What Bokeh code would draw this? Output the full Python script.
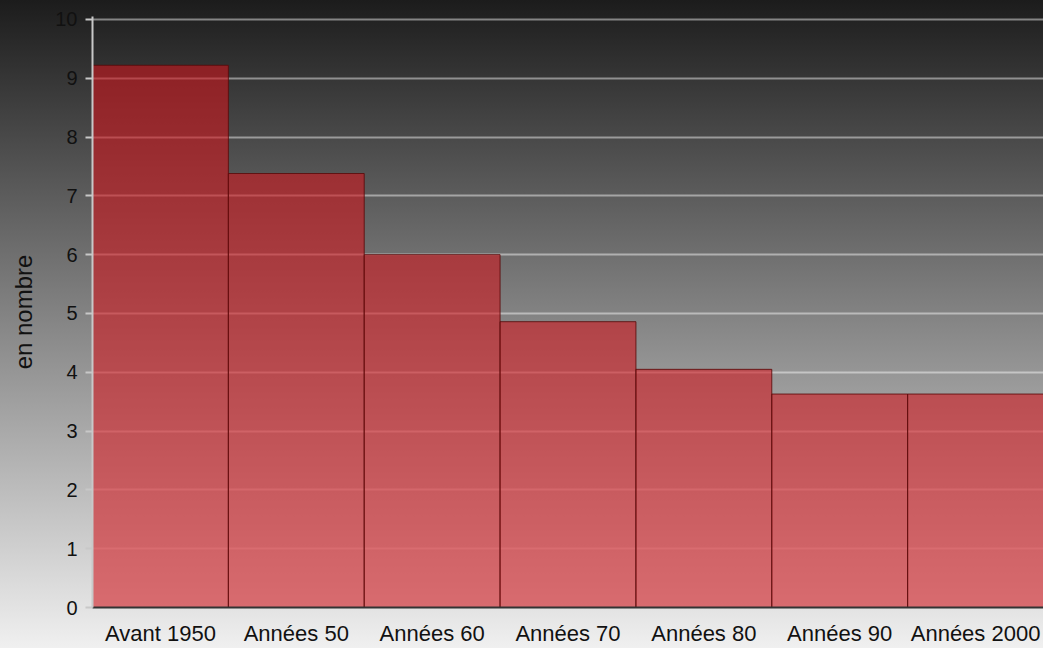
from bokeh.plotting import figure
from bokeh.models import FactorRange, Range1d, GlobalInlineStyleSheet, FixedTicker
from bokeh.embed import file_html
from bokeh.resources import INLINE

categories = ["Avant 1950", "Années 50", "Années 60", "Années 70",
              "Années 80", "Années 90", "Années 2000"]
values = [9.22, 7.38, 6.0, 4.86, 4.05, 3.63, 3.63]
y_ticks = [0, 1, 2, 3, 4, 5, 6, 7, 8, 9, 10]
y_label = "en nombre"

p = figure(x_range=FactorRange(*categories, range_padding=0),
           y_range=Range1d(0, 10.05),
           width=1043, height=648,
           output_backend="svg", toolbar_location=None,
           min_border_left=92, min_border_right=0,
           min_border_top=16, min_border_bottom=41)

p.stylesheets = [GlobalInlineStyleSheet(css=
    "html{height:100%;background:linear-gradient(to bottom,#1c1c1c 0%,#f0f0f0 100%) no-repeat;}"
    "body{background:transparent;}")]

p.background_fill_alpha = 0
p.border_fill_alpha = 0
p.outline_line_color = None

p.vbar(x=categories, top=values, width=1.0,
       fill_color="#d0141c", fill_alpha=0.58,
       line_color="#5a0a0a", line_alpha=0.85, line_width=1)

p.xgrid.grid_line_color = None
p.ygrid.grid_line_color = "white"
p.ygrid.grid_line_alpha = 0.45
p.ygrid.grid_line_width = 2
p.ygrid.ticker = FixedTicker(ticks=y_ticks)

p.yaxis.ticker = FixedTicker(ticks=y_ticks)
p.yaxis.minor_tick_line_color = None
p.yaxis.major_tick_in = 0
p.yaxis.major_tick_out = 7
p.yaxis.major_tick_line_color = "#c8c8c8"
p.yaxis.major_tick_line_width = 2
p.yaxis.axis_line_color = "#c8c8c8"
p.yaxis.axis_line_width = 2
p.yaxis.major_label_text_font = "Liberation Sans"
p.yaxis.major_label_text_font_size = "20px"
p.yaxis.major_label_text_color = "#111111"
p.yaxis.major_label_standoff = 8
p.yaxis.axis_label = y_label
p.yaxis.axis_label_text_font = "Liberation Sans"
p.yaxis.axis_label_text_font_size = "24px"
p.yaxis.axis_label_text_font_style = "normal"
p.yaxis.axis_label_text_color = "#111111"
p.yaxis.axis_label_standoff = 15

p.xaxis.axis_line_color = "#333333"
p.xaxis.axis_line_width = 2
p.xaxis.major_tick_line_color = None
p.xaxis.major_tick_out = 0
p.xaxis.major_tick_in = 0
p.xaxis.minor_tick_line_color = None
p.xaxis.major_label_text_font = "Liberation Sans"
p.xaxis.major_label_text_font_size = "22px"
p.xaxis.major_label_text_color = "#111111"
p.xaxis.major_label_standoff = 13

open("out.html", "w").write(file_html(p, INLINE))
